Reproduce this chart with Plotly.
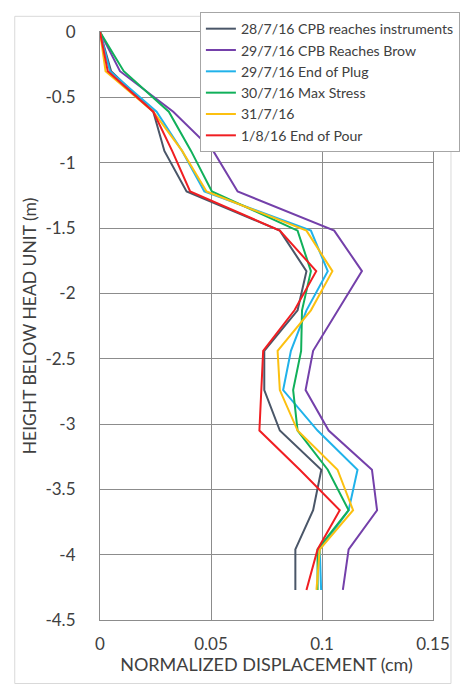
import plotly.graph_objects as go

# Depth below the head unit (m), one reading per foot
depth = [0, -0.30, -0.61, -0.91, -1.22, -1.52, -1.83, -2.13, -2.44, -2.74,
         -3.05, -3.35, -3.66, -3.96, -4.27]

# Normalized displacement (cm) for each survey
d_28_7 = [0, 0.005, 0.024, 0.029, 0.039, 0.081, 0.093, 0.089, 0.074, 0.074,
          0.081, 0.0997, 0.096, 0.088, 0.088]
d_29_7_brow = [0, 0.009, 0.033, 0.051, 0.062, 0.1055, 0.118, 0.107, 0.096, 0.0926,
               0.103, 0.1225, 0.1248, 0.112, 0.1094]
d_29_7_plug = [0, 0.0045, 0.0255, 0.037, 0.047, 0.095, 0.1026, 0.093, 0.086, 0.0825,
               0.098, 0.116, 0.112, 0.099, 0.0996]
d_30_7 = [0, 0.0107, 0.031, 0.041, 0.0504, 0.089, 0.095, 0.091, 0.0906, 0.087,
          0.089, 0.1026, 0.112, 0.098, 0.098]
d_31_7 = [0, 0.0025, 0.024, 0.037, 0.048, 0.093, 0.1047, 0.095, 0.080, 0.081,
          0.089, 0.107, 0.114, 0.099, 0.0975]
d_1_8 = [0, 0.0035, 0.024, 0.0325, 0.0406, 0.081, 0.0974, 0.0876, 0.0735, 0.0726,
         0.0718, 0.090, 0.108, 0.098, 0.093]

series_names = ["28/7/16 CPB reaches instruments", "29/7/16 CPB Reaches Brow",
                "29/7/16 End of Plug", "30/7/16 Max Stress", "31/7/16",
                "1/8/16 End of Pour"]
series_values = [d_28_7, d_29_7_brow, d_29_7_plug, d_30_7, d_31_7, d_1_8]
series_colors = ["#4a5668", "#7440aa", "#20b2ea", "#10b05a", "#fcc010", "#f01e22"]

x_ticks = [0, 0.05, 0.1, 0.15]
y_ticks = [0, -0.5, -1, -1.5, -2, -2.5, -3, -3.5, -4, -4.5]

FONT = "Lato"
TEXT = "#404040"
GRID = "#8c8c8c"

fig = go.Figure()
for name, vals, col in zip(series_names, series_values, series_colors):
    fig.add_trace(go.Scatter(x=vals, y=depth, mode="lines", name=name,
                             line=dict(color=col, width=2)))

fig.update_layout(
    width=472, height=687,
    margin=dict(l=100, r=21, t=21, b=67),
    paper_bgcolor="white", plot_bgcolor="white",
    font=dict(family=FONT, size=17, color=TEXT),
    showlegend=True,
    legend=dict(x=0.3, y=1.034, xanchor="left", yanchor="top",
                bgcolor="white", bordercolor="#a6a6a6", borderwidth=1,
                font=dict(family=FONT, size=14.1, color=TEXT),
                tracegroupgap=0, itemwidth=30),
    xaxis=dict(range=[0, 0.15], tickvals=x_ticks, ticktext=["0", "0.05", "0.1", "0.15"],
               showgrid=True, gridcolor=GRID, gridwidth=1.2,
               showline=True, linecolor=GRID, linewidth=1.2, mirror=True,
               zeroline=False, ticks="", ticklabelstandoff=8,
               tickfont=dict(family=FONT, size=17, color=TEXT),
               title=dict(text="NORMALIZED DISPLACEMENT (cm)", standoff=0,
                          font=dict(family=FONT, size=18, color=TEXT))),
    yaxis=dict(range=[-4.5, 0], tickvals=y_ticks,
               ticktext=["0", "-0.5", "-1", "-1.5", "-2", "-2.5", "-3", "-3.5", "-4", "-4.5"],
               showgrid=True, gridcolor=GRID, gridwidth=1.2,
               showline=True, linecolor=GRID, linewidth=1.2, mirror=True,
               zeroline=False, ticks="", ticklabelstandoff=20,
               tickfont=dict(family=FONT, size=17, color=TEXT),
               title=dict(text="HEIGHT BELOW HEAD UNIT (m)", standoff=4,
                          font=dict(family=FONT, size=17.5, color=TEXT))),
)

# Light outer frame around the chart
fig.add_shape(type="rect", xref="paper", yref="paper",
              x0=-0.256, x1=1.054, y0=-0.108, y1=1.0267,
              line=dict(color="#d9d9d9", width=1), fillcolor="rgba(0,0,0,0)",
              layer="below")

fig.write_html("out.html")
